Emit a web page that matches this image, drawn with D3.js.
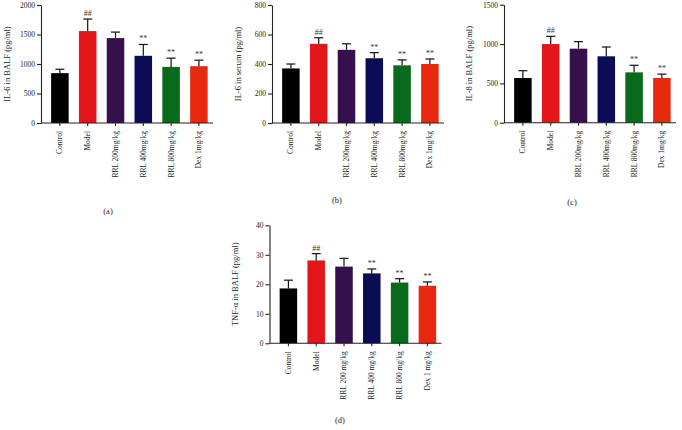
<!DOCTYPE html>
<html>
<head>
<meta charset="utf-8">
<script src="https://cdn.jsdelivr.net/npm/d3@7"></script>
<style>
  body { margin: 0; background: #fff; }
  svg { display: block; font-family: "Liberation Serif", "DejaVu Serif", serif; }
  .tick text { font-size: 7.5px; fill: #222; }
  .axis path, .axis line { stroke: #222; stroke-width: 1.1; }
</style>
</head>
<body>
<svg id="chart" width="682" height="430"></svg>
<script>
/* Group names and bar colours shared by all four panels */
const groups = ['Control', 'Model', 'RRL 200mg/kg', 'RRL 400mg/kg', 'RRL 800mg/kg', 'Dex 1mg/kg'];
const groupsD = ['Control', 'Model', 'RRL 200 mg/kg', 'RRL 400 mg/kg', 'RRL 800 mg/kg', 'Dex 1 mg/kg'];
const barColors = ['#000000', '#e3161b', '#35104c', '#0c0c56', '#0a6a1c', '#e6290f'];
const marks = ['', '##', '', '**', '**', '**'];

// (a) IL-6 in BALF
const il6BalfMean = [845, 1558, 1439, 1139, 951, 963];
const il6BalfErr  = [911, 1762, 1541, 1331, 1099, 1065];
const il6BalfTicks = [0, 500, 1000, 1500, 2000];

// (b) IL-6 in serum
const il6SerumMean = [370, 537, 496, 439, 391, 400];
const il6SerumErr  = [400, 578, 537, 477, 428, 434];
const il6SerumTicks = [0, 200, 400, 600, 800];

// (c) IL-8 in BALF
const il8Mean = [568, 1000, 941, 844, 640, 568];
const il8Err  = [661, 1098, 1030, 962, 730, 617];
const il8Marks = ['', '##', '', '', '**', '**'];
const il8Ticks = [0, 500, 1000, 1500];

// (d) TNF-alpha in BALF
const tnfMean = [18.6, 28.1, 26.0, 23.7, 20.6, 19.5];
const tnfErr  = [21.4, 30.4, 28.8, 25.2, 21.9, 20.8];
const tnfTicks = [0, 10, 20, 30, 40];

const svg = d3.select('#chart');

/* One panel: y axis at axisX, baseline at baseY */
function drawPanel(cfg) {
    const g = svg.append('g');
    const top = cfg.baseY - 118;
    const y = d3.scaleLinear()
        .domain([0, d3.max(cfg.ticks)])
        .range([cfg.baseY, top]);
    const x = d3.scaleBand()
        .domain(cfg.names)
        .range([cfg.axisX + 5, cfg.axisX + 5 + 6 * 27.8])
        .paddingInner(0.37)
        .paddingOuter(0.185);

    // bars
    g.selectAll('rect.bar')
        .data(cfg.mean)
        .join('rect')
        .attr('class', 'bar')
        .attr('x', (d, i) => x(cfg.names[i]))
        .attr('width', x.bandwidth())
        .attr('y', d => y(d))
        .attr('height', d => y(0) - y(d))
        .attr('fill', (d, i) => barColors[i]);

    // error bars (upper only)
    const cx = i => x(cfg.names[i]) + x.bandwidth() / 2;
    g.selectAll('line.err')
        .data(cfg.err)
        .join('line')
        .attr('x1', (d, i) => cx(i)).attr('x2', (d, i) => cx(i))
        .attr('y1', (d, i) => y(cfg.mean[i])).attr('y2', d => y(d))
        .attr('stroke', '#111').attr('stroke-width', 1.2);
    g.selectAll('line.cap')
        .data(cfg.err)
        .join('line')
        .attr('x1', (d, i) => cx(i) - 4.5).attr('x2', (d, i) => cx(i) + 4.5)
        .attr('y1', d => y(d)).attr('y2', d => y(d))
        .attr('stroke', '#111').attr('stroke-width', 1.2);

    // significance marks
    g.selectAll('text.mark')
        .data(cfg.marks)
        .join('text')
        .attr('x', (d, i) => cx(i))
        .attr('y', (d, i) => y(cfg.err[i]) - 3)
        .attr('text-anchor', 'middle')
        .attr('font-size', '8px')
        .attr('fill', '#333')
        .text(d => d);

    // y axis
    g.append('g')
        .attr('class', 'axis')
        .attr('transform', `translate(${cfg.axisX},0)`)
        .call(d3.axisLeft(y).tickValues(cfg.ticks).tickSize(4).tickSizeOuter(0).tickPadding(2).tickFormat(d3.format('d')))
        .attr('font-family', null);

    // x axis baseline + ticks
    g.append('line')
        .attr('x1', cfg.axisX).attr('x2', cfg.axisX + 172)
        .attr('y1', cfg.baseY).attr('y2', cfg.baseY)
        .attr('stroke', '#222').attr('stroke-width', 1.1);
    const xa = g.append('g')
        .attr('class', 'axis')
        .attr('transform', `translate(0,${cfg.baseY})`)
        .call(d3.axisBottom(x).tickSize(3).tickSizeOuter(0).tickPadding(2))
        .attr('font-family', null);
    xa.select('.domain').remove();
    xa.selectAll('.tick text')
        .attr('transform', 'rotate(-90)')
        .attr('text-anchor', 'end')
        .attr('x', -8)
        .attr('y', 0)
        .attr('dy', '0.33em');

    // y label
    g.append('text')
        .attr('transform', `translate(${cfg.labelX},${(cfg.baseY + top) / 2}) rotate(-90)`)
        .attr('text-anchor', 'middle')
        .attr('dy', '0.35em')
        .attr('font-size', '8.5px')
        .attr('fill', '#222')
        .text(cfg.ylabel);

    // panel letter
    g.append('text')
        .attr('x', cfg.letterX).attr('y', cfg.letterY)
        .attr('text-anchor', 'middle')
        .attr('dy', '0.35em')
        .attr('font-size', '8.5px')
        .attr('fill', '#222')
        .text(cfg.letter);
}

drawPanel({ axisX: 41, baseY: 123, names: groups, mean: il6BalfMean, err: il6BalfErr, marks: marks,
    ticks: il6BalfTicks, ylabel: 'IL-6 in BALF (pg/ml)', labelX: 7, letter: '(a)', letterX: 108, letterY: 211 });
drawPanel({ axisX: 272, baseY: 123, names: groups, mean: il6SerumMean, err: il6SerumErr, marks: marks,
    ticks: il6SerumTicks, ylabel: 'IL-6 in serum (pg/ml)', labelX: 238, letter: '(b)', letterX: 337, letterY: 200 });
drawPanel({ axisX: 504, baseY: 122.7, names: groups, mean: il8Mean, err: il8Err, marks: il8Marks,
    ticks: il8Ticks, ylabel: 'IL-8 in BALF (pg/ml)', labelX: 469, letter: '(c)', letterX: 572, letterY: 202 });
drawPanel({ axisX: 269.5, baseY: 343.3, names: groupsD, mean: tnfMean, err: tnfErr, marks: marks,
    ticks: tnfTicks, ylabel: 'TNF-α in BALF (pg/ml)', labelX: 235, letter: '(d)', letterX: 340, letterY: 420 });
</script>
</body>
</html>
